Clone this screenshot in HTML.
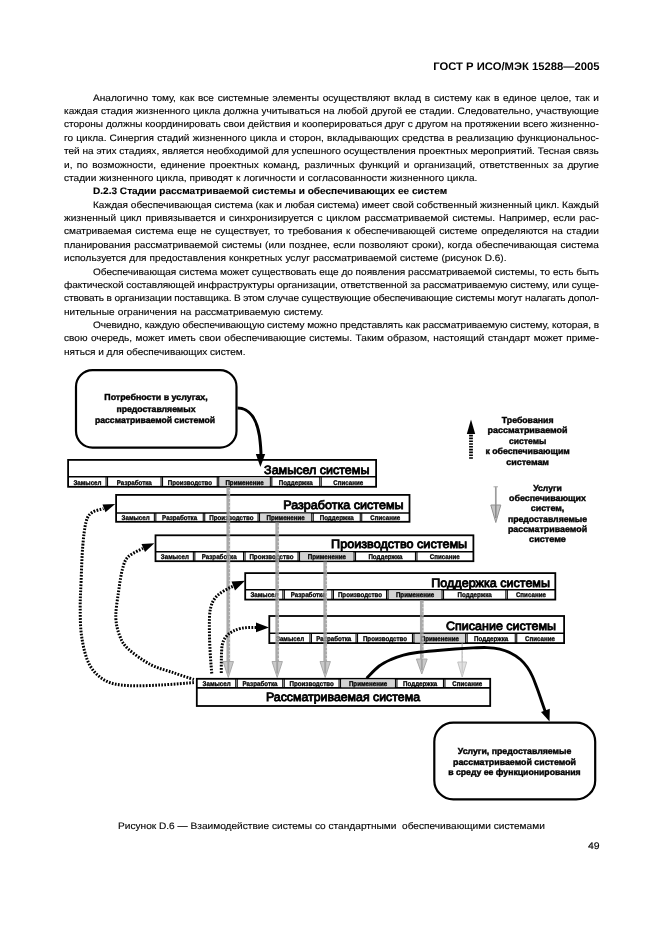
<!DOCTYPE html>
<html><head><meta charset="utf-8"><title>ГОСТ Р ИСО/МЭК 15288—2005</title>
<style>
html,body{margin:0;padding:0;background:#fff}
body{width:661px;height:936px;position:relative;overflow:hidden;font-family:"Liberation Sans",sans-serif;color:#000;text-rendering:geometricPrecision}
.t{position:absolute;white-space:pre;font-size:9.4px;line-height:1;transform:scaleX(1.07447);transform-origin:0 0;-webkit-text-stroke:0.13px #000;}
#pg{position:absolute;left:0;top:0;width:661px;height:936px;will-change:transform;opacity:0.999}
.hd{position:absolute;white-space:pre;font-weight:bold;font-size:11px;line-height:1;right:62px;top:61.7px;transform:scaleX(1.023);transform-origin:100% 0}
.cap{position:absolute;white-space:pre;font-size:9.4px;line-height:1;left:117.9px;top:821.0px;transform:scaleX(1.08);transform-origin:0 0;-webkit-text-stroke:0.13px #000}
.pn{position:absolute;white-space:pre;font-size:9.6px;line-height:1;right:61.3px;top:842.1px;transform:scaleX(1.09);transform-origin:100% 0;-webkit-text-stroke:0.13px #000}
</style></head><body><div id="pg">
<div class="hd">ГОСТ Р ИСО/МЭК 15288—2005</div>
<div class="t" style="left:93.00px;top:93.00px;word-spacing:0.882px;">Аналогично тому, как все системные элементы осуществляют вклад в систему как в единое целое, так и</div>
<div class="t" style="left:64.20px;top:106.00px;word-spacing:0.224px;">каждая стадия жизненного цикла должна учитываться на любой другой ее стадии. Следовательно, участвующие</div>
<div class="t" style="left:64.20px;top:119.00px;letter-spacing:-0.0080px;">стороны должны координировать свои действия и кооперироваться друг с другом на протяжении всего жизненно-</div>
<div class="t" style="left:64.20px;top:133.00px;word-spacing:0.353px;">го цикла. Синергия стадий жизненного цикла и сторон, вкладывающих средства в реализацию функциональнос-</div>
<div class="t" style="left:64.20px;top:146.00px;letter-spacing:-0.0110px;">тей на этих стадиях, является необходимой для успешного осуществления проектных мероприятий. Тесная связь</div>
<div class="t" style="left:64.20px;top:160.00px;word-spacing:1.480px;">и, по возможности, единение проектных команд, различных функций и организаций, ответственных за другие</div>
<div class="t" style="left:64.20px;top:173.00px;word-spacing:0.252px;">стадии жизненного цикла, приводят к логичности и согласованности жизненного цикла.</div>
<div class="t" style="left:93.00px;top:186.00px;word-spacing:-0.001px;font-weight:bold;">D.2.3 Стадии рассматриваемой системы и обеспечивающих ее систем</div>
<div class="t" style="left:93.00px;top:200.00px;letter-spacing:-0.0170px;">Каждая обеспечивающая система (как и любая система) имеет свой собственный жизненный цикл. Каждый</div>
<div class="t" style="left:64.20px;top:213.00px;word-spacing:0.935px;">жизненный цикл привязывается и синхронизируется с циклом рассматриваемой системы. Например, если рас-</div>
<div class="t" style="left:64.20px;top:226.00px;word-spacing:0.826px;">сматриваемая система еще не существует, то требования к обеспечивающей системе определяются на стадии</div>
<div class="t" style="left:64.20px;top:240.00px;word-spacing:0.588px;">планирования рассматриваемой системы (или позднее, если позволяют сроки), когда обеспечивающая система</div>
<div class="t" style="left:64.20px;top:253.00px;word-spacing:0.221px;">используется для предоставления конкретных услуг рассматриваемой системе (рисунок D.6).</div>
<div class="t" style="left:93.00px;top:267.00px;letter-spacing:-0.0129px;">Обеспечивающая система может существовать еще до появления рассматриваемой системы, то есть быть</div>
<div class="t" style="left:64.20px;top:280.00px;letter-spacing:-0.0625px;">фактической составляющей инфраструктуры организации, ответственной за рассматриваемую систему, или суще-</div>
<div class="t" style="left:64.20px;top:293.00px;letter-spacing:-0.1260px;">ствовать в организации поставщика. В этом случае существующие обеспечивающие системы могут налагать допол-</div>
<div class="t" style="left:64.20px;top:307.00px;word-spacing:0.492px;">нительные ограничения на рассматриваемую систему.</div>
<div class="t" style="left:93.00px;top:320.00px;letter-spacing:-0.0614px;">Очевидно, каждую обеспечивающую систему можно представлять как рассматриваемую систему, которая, в</div>
<div class="t" style="left:64.20px;top:333.00px;word-spacing:0.668px;">свою очередь, может иметь свои обеспечивающие системы. Таким образом, настоящий стандарт может приме-</div>
<div class="t" style="left:64.20px;top:347.00px;word-spacing:-0.040px;">няться и для обеспечивающих систем.</div>
<svg width="661" height="936" viewBox="0 0 661 936" style="position:absolute;left:0;top:0">
<defs>
<marker id="ah" viewBox="0 0 12 10" refX="11" refY="5" markerWidth="12" markerHeight="10" markerUnits="userSpaceOnUse" orient="auto"><path d="M0,0.5 L12,5 L0,9.5 Z" fill="#000"/></marker>
</defs>
<style>
text{font-family:"Liberation Sans",sans-serif;fill:#000}
.c{font-size:6.9px;font-weight:bold;stroke:#000;stroke-width:0.32px}
.tt{stroke:#000;stroke-width:0.85px}
.b{font-size:8.7px;font-weight:bold;stroke:#000;stroke-width:0.4px}
.dot{fill:none;stroke:#000;stroke-width:3;stroke-dasharray:1.7 1.4}
</style>
<!-- bars -->
<rect x="68.1" y="459.9" width="308.0" height="26.9" fill="none" stroke="#000" stroke-width="1.8"/>
<line x1="68.1" y1="476.7" x2="376.1" y2="476.7" stroke="#000" stroke-width="1.6"/>
<rect x="219.4" y="477.3" width="50.3" height="8.9" fill="#d4d4d4"/>
<line x1="106.05" y1="476.7" x2="106.05" y2="486.8" stroke="#000" stroke-width="1.05"/>
<line x1="107.55" y1="476.7" x2="107.55" y2="486.8" stroke="#000" stroke-width="1.05"/>
<line x1="161.05" y1="476.7" x2="161.05" y2="486.8" stroke="#000" stroke-width="1.05"/>
<line x1="162.55" y1="476.7" x2="162.55" y2="486.8" stroke="#000" stroke-width="1.05"/>
<line x1="217.25" y1="476.7" x2="217.25" y2="486.8" stroke="#000" stroke-width="1.05"/>
<line x1="218.75" y1="476.7" x2="218.75" y2="486.8" stroke="#000" stroke-width="1.05"/>
<line x1="270.35" y1="476.7" x2="270.35" y2="486.8" stroke="#000" stroke-width="1.05"/>
<line x1="271.85" y1="476.7" x2="271.85" y2="486.8" stroke="#000" stroke-width="1.05"/>
<line x1="319.75" y1="476.7" x2="319.75" y2="486.8" stroke="#000" stroke-width="1.05"/>
<line x1="321.25" y1="476.7" x2="321.25" y2="486.8" stroke="#000" stroke-width="1.05"/>
<text class="c" x="73.4" y="484.5" textLength="28.1" lengthAdjust="spacingAndGlyphs">Замысел</text>
<text class="c" x="116.8" y="484.5" textLength="35.0" lengthAdjust="spacingAndGlyphs">Разработка</text>
<text class="c" x="167.8" y="484.5" textLength="44.2" lengthAdjust="spacingAndGlyphs">Производство</text>
<text class="c" x="225.4" y="484.5" textLength="38.3" lengthAdjust="spacingAndGlyphs">Применение</text>
<text class="c" x="278.7" y="484.5" textLength="34.1" lengthAdjust="spacingAndGlyphs">Поддержка</text>
<text class="c" x="333.3" y="484.5" textLength="30.0" lengthAdjust="spacingAndGlyphs">Списание</text>
<text class="tt" x="264.1" y="473.6" font-size="12.1" textLength="105.3" lengthAdjust="spacingAndGlyphs">Замысел системы</text>
<rect x="116.1" y="494.9" width="293.4" height="26.9" fill="none" stroke="#000" stroke-width="1.8"/>
<line x1="116.1" y1="513.0" x2="409.5" y2="513.0" stroke="#000" stroke-width="1.6"/>
<rect x="260.2" y="513.6" width="50.9" height="7.6" fill="#d4d4d4"/>
<line x1="154.35" y1="513.0" x2="154.35" y2="521.8" stroke="#000" stroke-width="1.05"/>
<line x1="155.85" y1="513.0" x2="155.85" y2="521.8" stroke="#000" stroke-width="1.05"/>
<line x1="203.25" y1="513.0" x2="203.25" y2="521.8" stroke="#000" stroke-width="1.05"/>
<line x1="204.75" y1="513.0" x2="204.75" y2="521.8" stroke="#000" stroke-width="1.05"/>
<line x1="258.05" y1="513.0" x2="258.05" y2="521.8" stroke="#000" stroke-width="1.05"/>
<line x1="259.55" y1="513.0" x2="259.55" y2="521.8" stroke="#000" stroke-width="1.05"/>
<line x1="311.75" y1="513.0" x2="311.75" y2="521.8" stroke="#000" stroke-width="1.05"/>
<line x1="313.25" y1="513.0" x2="313.25" y2="521.8" stroke="#000" stroke-width="1.05"/>
<line x1="360.25" y1="513.0" x2="360.25" y2="521.8" stroke="#000" stroke-width="1.05"/>
<line x1="361.75" y1="513.0" x2="361.75" y2="521.8" stroke="#000" stroke-width="1.05"/>
<text class="c" x="121.6" y="519.5" textLength="28.1" lengthAdjust="spacingAndGlyphs">Замысел</text>
<text class="c" x="162.1" y="519.5" textLength="35.0" lengthAdjust="spacingAndGlyphs">Разработка</text>
<text class="c" x="209.3" y="519.5" textLength="44.2" lengthAdjust="spacingAndGlyphs">Производство</text>
<text class="c" x="266.5" y="519.5" textLength="38.3" lengthAdjust="spacingAndGlyphs">Применение</text>
<text class="c" x="319.7" y="519.5" textLength="34.1" lengthAdjust="spacingAndGlyphs">Поддержка</text>
<text class="c" x="370.2" y="519.5" textLength="30.0" lengthAdjust="spacingAndGlyphs">Списание</text>
<text class="tt" x="283.3" y="508.9" font-size="12.1" textLength="120.3" lengthAdjust="spacingAndGlyphs">Разработка системы</text>
<rect x="155.5" y="535.3" width="317.9" height="25.9" fill="none" stroke="#000" stroke-width="1.8"/>
<line x1="155.5" y1="551.7" x2="473.4" y2="551.7" stroke="#000" stroke-width="1.6"/>
<rect x="300.2" y="552.3" width="53.2" height="8.3" fill="#d4d4d4"/>
<line x1="193.35" y1="551.7" x2="193.35" y2="561.2" stroke="#000" stroke-width="1.05"/>
<line x1="194.85" y1="551.7" x2="194.85" y2="561.2" stroke="#000" stroke-width="1.05"/>
<line x1="243.55" y1="551.7" x2="243.55" y2="561.2" stroke="#000" stroke-width="1.05"/>
<line x1="245.05" y1="551.7" x2="245.05" y2="561.2" stroke="#000" stroke-width="1.05"/>
<line x1="298.05" y1="551.7" x2="298.05" y2="561.2" stroke="#000" stroke-width="1.05"/>
<line x1="299.55" y1="551.7" x2="299.55" y2="561.2" stroke="#000" stroke-width="1.05"/>
<line x1="354.05" y1="551.7" x2="354.05" y2="561.2" stroke="#000" stroke-width="1.05"/>
<line x1="355.55" y1="551.7" x2="355.55" y2="561.2" stroke="#000" stroke-width="1.05"/>
<line x1="415.45" y1="551.7" x2="415.45" y2="561.2" stroke="#000" stroke-width="1.05"/>
<line x1="416.95" y1="551.7" x2="416.95" y2="561.2" stroke="#000" stroke-width="1.05"/>
<text class="c" x="160.8" y="558.9" textLength="28.1" lengthAdjust="spacingAndGlyphs">Замысел</text>
<text class="c" x="201.7" y="558.9" textLength="35.0" lengthAdjust="spacingAndGlyphs">Разработка</text>
<text class="c" x="249.4" y="558.9" textLength="44.2" lengthAdjust="spacingAndGlyphs">Производство</text>
<text class="c" x="307.7" y="558.9" textLength="38.3" lengthAdjust="spacingAndGlyphs">Применение</text>
<text class="c" x="368.4" y="558.9" textLength="34.1" lengthAdjust="spacingAndGlyphs">Поддержка</text>
<text class="c" x="429.8" y="558.9" textLength="30.0" lengthAdjust="spacingAndGlyphs">Списание</text>
<text class="tt" x="331.1" y="548.0" font-size="12.1" textLength="136.1" lengthAdjust="spacingAndGlyphs">Производство системы</text>
<rect x="245.2" y="573.1" width="310.1" height="26.5" fill="none" stroke="#000" stroke-width="1.8"/>
<line x1="245.2" y1="589.7" x2="555.3" y2="589.7" stroke="#000" stroke-width="1.6"/>
<rect x="388.7" y="590.3" width="52.7" height="8.7" fill="#d4d4d4"/>
<line x1="282.85" y1="589.7" x2="282.85" y2="599.6" stroke="#000" stroke-width="1.05"/>
<line x1="284.35" y1="589.7" x2="284.35" y2="599.6" stroke="#000" stroke-width="1.05"/>
<line x1="331.95" y1="589.7" x2="331.95" y2="599.6" stroke="#000" stroke-width="1.05"/>
<line x1="333.45" y1="589.7" x2="333.45" y2="599.6" stroke="#000" stroke-width="1.05"/>
<line x1="386.55" y1="589.7" x2="386.55" y2="599.6" stroke="#000" stroke-width="1.05"/>
<line x1="388.05" y1="589.7" x2="388.05" y2="599.6" stroke="#000" stroke-width="1.05"/>
<line x1="442.05" y1="589.7" x2="442.05" y2="599.6" stroke="#000" stroke-width="1.05"/>
<line x1="443.55" y1="589.7" x2="443.55" y2="599.6" stroke="#000" stroke-width="1.05"/>
<line x1="505.85" y1="589.7" x2="505.85" y2="599.6" stroke="#000" stroke-width="1.05"/>
<line x1="507.35" y1="589.7" x2="507.35" y2="599.6" stroke="#000" stroke-width="1.05"/>
<text class="c" x="250.4" y="597.3" textLength="28.1" lengthAdjust="spacingAndGlyphs">Замысел</text>
<text class="c" x="290.7" y="597.3" textLength="35.0" lengthAdjust="spacingAndGlyphs">Разработка</text>
<text class="c" x="337.9" y="597.3" textLength="44.2" lengthAdjust="spacingAndGlyphs">Производство</text>
<text class="c" x="395.9" y="597.3" textLength="38.3" lengthAdjust="spacingAndGlyphs">Применение</text>
<text class="c" x="457.6" y="597.3" textLength="34.1" lengthAdjust="spacingAndGlyphs">Поддержка</text>
<text class="c" x="515.9" y="597.3" textLength="30.0" lengthAdjust="spacingAndGlyphs">Списание</text>
<text class="tt" x="431.3" y="586.9" font-size="12.1" textLength="118.7" lengthAdjust="spacingAndGlyphs">Поддержка системы</text>
<rect x="269.3" y="616.0" width="294.8" height="27.1" fill="none" stroke="#000" stroke-width="1.8"/>
<line x1="269.3" y1="633.3" x2="564.1" y2="633.3" stroke="#000" stroke-width="1.6"/>
<rect x="414.6" y="633.9" width="50.4" height="8.6" fill="#d4d4d4"/>
<line x1="309.95" y1="633.3" x2="309.95" y2="643.1" stroke="#000" stroke-width="1.05"/>
<line x1="311.45" y1="633.3" x2="311.45" y2="643.1" stroke="#000" stroke-width="1.05"/>
<line x1="356.05" y1="633.3" x2="356.05" y2="643.1" stroke="#000" stroke-width="1.05"/>
<line x1="357.55" y1="633.3" x2="357.55" y2="643.1" stroke="#000" stroke-width="1.05"/>
<line x1="412.45" y1="633.3" x2="412.45" y2="643.1" stroke="#000" stroke-width="1.05"/>
<line x1="413.95" y1="633.3" x2="413.95" y2="643.1" stroke="#000" stroke-width="1.05"/>
<line x1="465.65" y1="633.3" x2="465.65" y2="643.1" stroke="#000" stroke-width="1.05"/>
<line x1="467.15" y1="633.3" x2="467.15" y2="643.1" stroke="#000" stroke-width="1.05"/>
<line x1="515.25" y1="633.3" x2="515.25" y2="643.1" stroke="#000" stroke-width="1.05"/>
<line x1="516.75" y1="633.3" x2="516.75" y2="643.1" stroke="#000" stroke-width="1.05"/>
<text class="c" x="276.0" y="640.8" textLength="28.1" lengthAdjust="spacingAndGlyphs">Замысел</text>
<text class="c" x="316.3" y="640.8" textLength="35.0" lengthAdjust="spacingAndGlyphs">Разработка</text>
<text class="c" x="362.9" y="640.8" textLength="44.2" lengthAdjust="spacingAndGlyphs">Производство</text>
<text class="c" x="420.7" y="640.8" textLength="38.3" lengthAdjust="spacingAndGlyphs">Применение</text>
<text class="c" x="474.1" y="640.8" textLength="34.1" lengthAdjust="spacingAndGlyphs">Поддержка</text>
<text class="c" x="525.0" y="640.8" textLength="30.0" lengthAdjust="spacingAndGlyphs">Списание</text>
<text class="tt" x="446.0" y="629.5" font-size="12.1" textLength="110" lengthAdjust="spacingAndGlyphs">Списание системы</text>
<rect x="196.8" y="678.8" width="293.4" height="27.2" fill="none" stroke="#000" stroke-width="1.8"/>
<line x1="196.8" y1="687.9" x2="490.2" y2="687.9" stroke="#000" stroke-width="1.6"/>
<rect x="341.2" y="679.4" width="53.6" height="7.9" fill="#d4d4d4"/>
<line x1="235.75" y1="678.8" x2="235.75" y2="687.9" stroke="#000" stroke-width="1.05"/>
<line x1="237.25" y1="678.8" x2="237.25" y2="687.9" stroke="#000" stroke-width="1.05"/>
<line x1="282.75" y1="678.8" x2="282.75" y2="687.9" stroke="#000" stroke-width="1.05"/>
<line x1="284.25" y1="678.8" x2="284.25" y2="687.9" stroke="#000" stroke-width="1.05"/>
<line x1="339.05" y1="678.8" x2="339.05" y2="687.9" stroke="#000" stroke-width="1.05"/>
<line x1="340.55" y1="678.8" x2="340.55" y2="687.9" stroke="#000" stroke-width="1.05"/>
<line x1="395.45" y1="678.8" x2="395.45" y2="687.9" stroke="#000" stroke-width="1.05"/>
<line x1="396.95" y1="678.8" x2="396.95" y2="687.9" stroke="#000" stroke-width="1.05"/>
<line x1="443.45" y1="678.8" x2="443.45" y2="687.9" stroke="#000" stroke-width="1.05"/>
<line x1="444.95" y1="678.8" x2="444.95" y2="687.9" stroke="#000" stroke-width="1.05"/>
<text class="c" x="202.6" y="685.6" textLength="28.1" lengthAdjust="spacingAndGlyphs">Замысел</text>
<text class="c" x="242.5" y="685.6" textLength="35.0" lengthAdjust="spacingAndGlyphs">Разработка</text>
<text class="c" x="289.5" y="685.6" textLength="44.2" lengthAdjust="spacingAndGlyphs">Производство</text>
<text class="c" x="348.9" y="685.6" textLength="38.3" lengthAdjust="spacingAndGlyphs">Применение</text>
<text class="c" x="403.1" y="685.6" textLength="34.1" lengthAdjust="spacingAndGlyphs">Поддержка</text>
<text class="c" x="452.2" y="685.6" textLength="30.0" lengthAdjust="spacingAndGlyphs">Списание</text>
<text class="tt" x="266.0" y="701" font-size="12.1" textLength="154" lengthAdjust="spacingAndGlyphs">Рассматриваемая система</text>
<!-- grey arrows -->
<g opacity="0.82">
<line x1="228.3" y1="487" x2="228.3" y2="662.5" stroke="#989898" stroke-width="3.7"/><path d="M223.10000000000002,661.5 L233.5,661.5 L228.3,677.5 Z" fill="#bdbdbd" stroke="#8e8e8e" stroke-width="0.9" stroke-linejoin="round"/><line x1="228.3" y1="661.5" x2="228.3" y2="673.5" stroke="#8e8e8e" stroke-width="1.9"/><line x1="229.48" y1="490" x2="229.48" y2="661.5" stroke="#fff" stroke-opacity="0.55" stroke-width="1.33" stroke-dasharray="1.3 2.6"/>
<line x1="277.2" y1="522.5" x2="277.2" y2="662.5" stroke="#989898" stroke-width="3.7"/><path d="M272.0,661.5 L282.4,661.5 L277.2,677.5 Z" fill="#bdbdbd" stroke="#8e8e8e" stroke-width="0.9" stroke-linejoin="round"/><line x1="277.2" y1="661.5" x2="277.2" y2="673.5" stroke="#8e8e8e" stroke-width="1.9"/><line x1="278.38" y1="525.5" x2="278.38" y2="661.5" stroke="#fff" stroke-opacity="0.55" stroke-width="1.33" stroke-dasharray="1.3 2.6"/>
<line x1="325.2" y1="561.5" x2="325.2" y2="662.5" stroke="#989898" stroke-width="3.7"/><path d="M320.0,661.5 L330.4,661.5 L325.2,677.5 Z" fill="#bdbdbd" stroke="#8e8e8e" stroke-width="0.9" stroke-linejoin="round"/><line x1="325.2" y1="661.5" x2="325.2" y2="673.5" stroke="#8e8e8e" stroke-width="1.9"/><line x1="326.38" y1="564.5" x2="326.38" y2="661.5" stroke="#fff" stroke-opacity="0.55" stroke-width="1.33" stroke-dasharray="1.3 2.6"/>
<line x1="421.8" y1="600" x2="421.8" y2="660" stroke="#989898" stroke-width="3.7"/><path d="M416.40000000000003,659 L427.2,659 L421.8,674 Z" fill="#bdbdbd" stroke="#8e8e8e" stroke-width="0.9" stroke-linejoin="round"/><line x1="421.8" y1="659" x2="421.8" y2="670" stroke="#8e8e8e" stroke-width="1.9"/><line x1="422.98" y1="603" x2="422.98" y2="659" stroke="#fff" stroke-opacity="0.55" stroke-width="1.33" stroke-dasharray="1.3 2.6"/>
<line x1="462.2" y1="643.5" x2="462.2" y2="663" stroke="#bbbbbb" stroke-width="1.6"/><path d="M457.7,662 L466.7,662 L462.2,677 Z" fill="#dcdcdc" stroke="#b0b0b0" stroke-width="0.9" stroke-linejoin="round"/><line x1="462.2" y1="662" x2="462.2" y2="673" stroke="#b0b0b0" stroke-width="0.8"/><line x1="462.71" y1="646.5" x2="462.71" y2="662" stroke="#fff" stroke-opacity="0.55" stroke-width="0.58" stroke-dasharray="1.3 2.6"/>
</g>
<!-- top-left rounded box -->
<rect x="76" y="370.2" width="160.5" height="77.4" rx="16.5" ry="16.5" fill="#fff" stroke="#000" stroke-width="2.2"/>
<text class="b" x="104.3" y="400.3" textLength="103.4" lengthAdjust="spacingAndGlyphs">Потребности в услугах,</text>
<text class="b" x="116.5" y="412" textLength="79" lengthAdjust="spacingAndGlyphs">предоставляемых</text>
<text class="b" x="95.0" y="422.5" textLength="120" lengthAdjust="spacingAndGlyphs">рассматриваемой системой</text>
<path d="M237.5,408 C250,408 257,420 259.5,436 C260.5,444 261,450 261,456" fill="none" stroke="#000" stroke-width="3"/>
<path d="M255.8,454 L265.2,454 L260.4,467 Z" fill="#000"/>
<!-- bottom-right rounded box -->
<rect x="434.3" y="722.7" width="160.9" height="76.7" rx="19" ry="19" fill="#fff" stroke="#000" stroke-width="2.2"/>
<text class="b" x="457.8" y="754" textLength="113.5" lengthAdjust="spacingAndGlyphs">Услуги, предоставляемые</text>
<text class="b" x="453.0" y="764.9" textLength="123" lengthAdjust="spacingAndGlyphs">рассматриваемой системой</text>
<text class="b" x="448.2" y="775.4" textLength="132.5" lengthAdjust="spacingAndGlyphs">в среду ее функционирования</text>
<!-- black curve -->
<path d="M366.6,678.2 C368.7,676.2 375.1,669.1 379.2,666.0 C383.3,662.9 387.3,661.2 391.3,659.4 C395.3,657.6 399.4,656.2 403.4,655.1 C407.4,654.0 410.2,653.4 415.5,652.7 C420.8,652.0 428.3,651.3 434.9,650.7 C441.5,650.1 448.6,649.5 455.0,649.0 C461.4,648.5 467.9,648.1 473.2,647.9 C478.5,647.7 482.6,647.4 487.0,647.6 C491.4,647.8 495.8,648.2 499.8,649.1 C503.8,650.0 507.6,651.5 511.0,653.2 C514.5,654.9 517.8,657.1 520.5,659.5 C523.2,661.9 525.5,664.7 527.5,667.5 C529.5,670.3 530.9,673.1 532.5,676.5 C534.1,679.9 535.5,684.1 537.0,688.0 C538.5,691.9 539.8,695.9 541.2,700.0 C542.6,704.1 544.9,710.4 545.6,712.5" fill="none" stroke="#000" stroke-width="2.9"/>
<path d="M541.0,712.0 L549.8,708.8 L549.5,721.6 Z" fill="#000"/>
<!-- dotted arrows -->
<path class="dot" d="M193.9,682.6 C188.6,683.0 173.1,684.4 162.1,684.9 C151.1,685.4 137.5,686.3 128.1,685.6 C118.6,684.9 111.8,684.1 105.4,680.6 C99.0,677.1 93.4,671.9 89.5,664.7 C85.6,657.5 83.3,647.0 81.8,637.5 C80.2,628.0 80.3,617.5 80.2,608.0 C80.1,598.5 80.7,591.0 81.1,580.8 C81.5,570.6 81.9,556.5 82.7,546.7 C83.5,536.9 84.6,527.5 86.1,521.8 C87.6,516.1 88.9,514.9 91.8,512.7 C94.7,510.5 101.5,509.3 103.5,508.6"/>
<path d="M102.5,504.6 L115.2,504 L105.5,512.2 Z" fill="#000"/>
<path class="dot" d="M193.9,679.5 C190.5,678.4 180.7,675.2 173.5,672.7 C166.3,670.2 158.4,668.7 150.8,664.7 C143.2,660.7 133.3,653.7 128.1,648.8 C122.9,643.9 121.5,640.5 119.5,635.2 C117.5,629.9 116.0,624.3 115.8,617.1 C115.6,609.9 117.4,600.1 118.5,592.1 C119.6,584.1 120.8,575.3 122.4,569.4 C124.0,563.5 124.7,560.4 128.1,556.9 C131.5,553.4 140.5,549.7 143.0,548.3"/>
<path d="M141.5,544 L154.4,543.2 L145,552 Z" fill="#000"/>
<path class="dot" d="M211.8,673.5 C210,655 209,635 209.5,617 C210,604 214,597 222,592 C226,589.5 230,587.5 234,586"/>
<path d="M231.5,581.5 L245,580.8 L235,590.5 Z" fill="#000"/>
<path class="dot" d="M221.3,673 C221.3,662 221.3,652 222,646 C223.5,637 229,631.5 241,628.3 C246,627.4 252,627.4 257,627.4"/>
<path d="M256,622.6 L269,627.4 L256,632.2 Z" fill="#000"/>
<!-- legend 1 -->
<line x1="471" y1="432" x2="471" y2="459.6" stroke="#000" stroke-width="3.8" stroke-dasharray="1.6 1.2"/>
<path d="M466.8,434 L475.2,434 L471,419.5 Z" fill="#000"/>
<text class="b" x="501.8" y="422.9" textLength="51.7" lengthAdjust="spacingAndGlyphs">Требования</text>
<text class="b" x="487.6" y="433.2" textLength="80" lengthAdjust="spacingAndGlyphs">рассматриваемой</text>
<text class="b" x="509.0" y="443.6" textLength="37.3" lengthAdjust="spacingAndGlyphs">системы</text>
<text class="b" x="485.4" y="453.9" textLength="84.4" lengthAdjust="spacingAndGlyphs">к обеспечивающим</text>
<text class="b" x="506.2" y="464.6" textLength="42.8" lengthAdjust="spacingAndGlyphs">системам</text>
<!-- legend 2 -->
<line x1="495.8" y1="486.6" x2="495.8" y2="508" stroke="#9c9c9c" stroke-width="1.7"/>
<line x1="493.5" y1="486.8" x2="498" y2="486.8" stroke="#aaa" stroke-width="1"/>
<path d="M490.8,505 L500.8,505 L495.8,522.5 Z" fill="#c6c6c6" stroke="#909090" stroke-width="1" stroke-linejoin="round"/><line x1="495.8" y1="505" x2="495.8" y2="518" stroke="#8c8c8c" stroke-width="1.6"/>
<text class="b" x="533.2" y="490.7" textLength="28.6" lengthAdjust="spacingAndGlyphs">Услуги</text>
<text class="b" x="509.1" y="500.8" textLength="76.8" lengthAdjust="spacingAndGlyphs">обеспечивающих</text>
<text class="b" x="530.8" y="511.1" textLength="33.5" lengthAdjust="spacingAndGlyphs">систем,</text>
<text class="b" x="507.9" y="522" textLength="79.2" lengthAdjust="spacingAndGlyphs">предоставляемые</text>
<text class="b" x="507.9" y="532" textLength="79.2" lengthAdjust="spacingAndGlyphs">рассматриваемой</text>
<text class="b" x="529.1" y="542.2" textLength="36.8" lengthAdjust="spacingAndGlyphs">системе</text>
</svg>
<div class="cap">Рисунок D.6 — Взаимодействие системы со стандартными  обеспечивающими системами</div>
<div class="pn">49</div>
</div></body></html>
